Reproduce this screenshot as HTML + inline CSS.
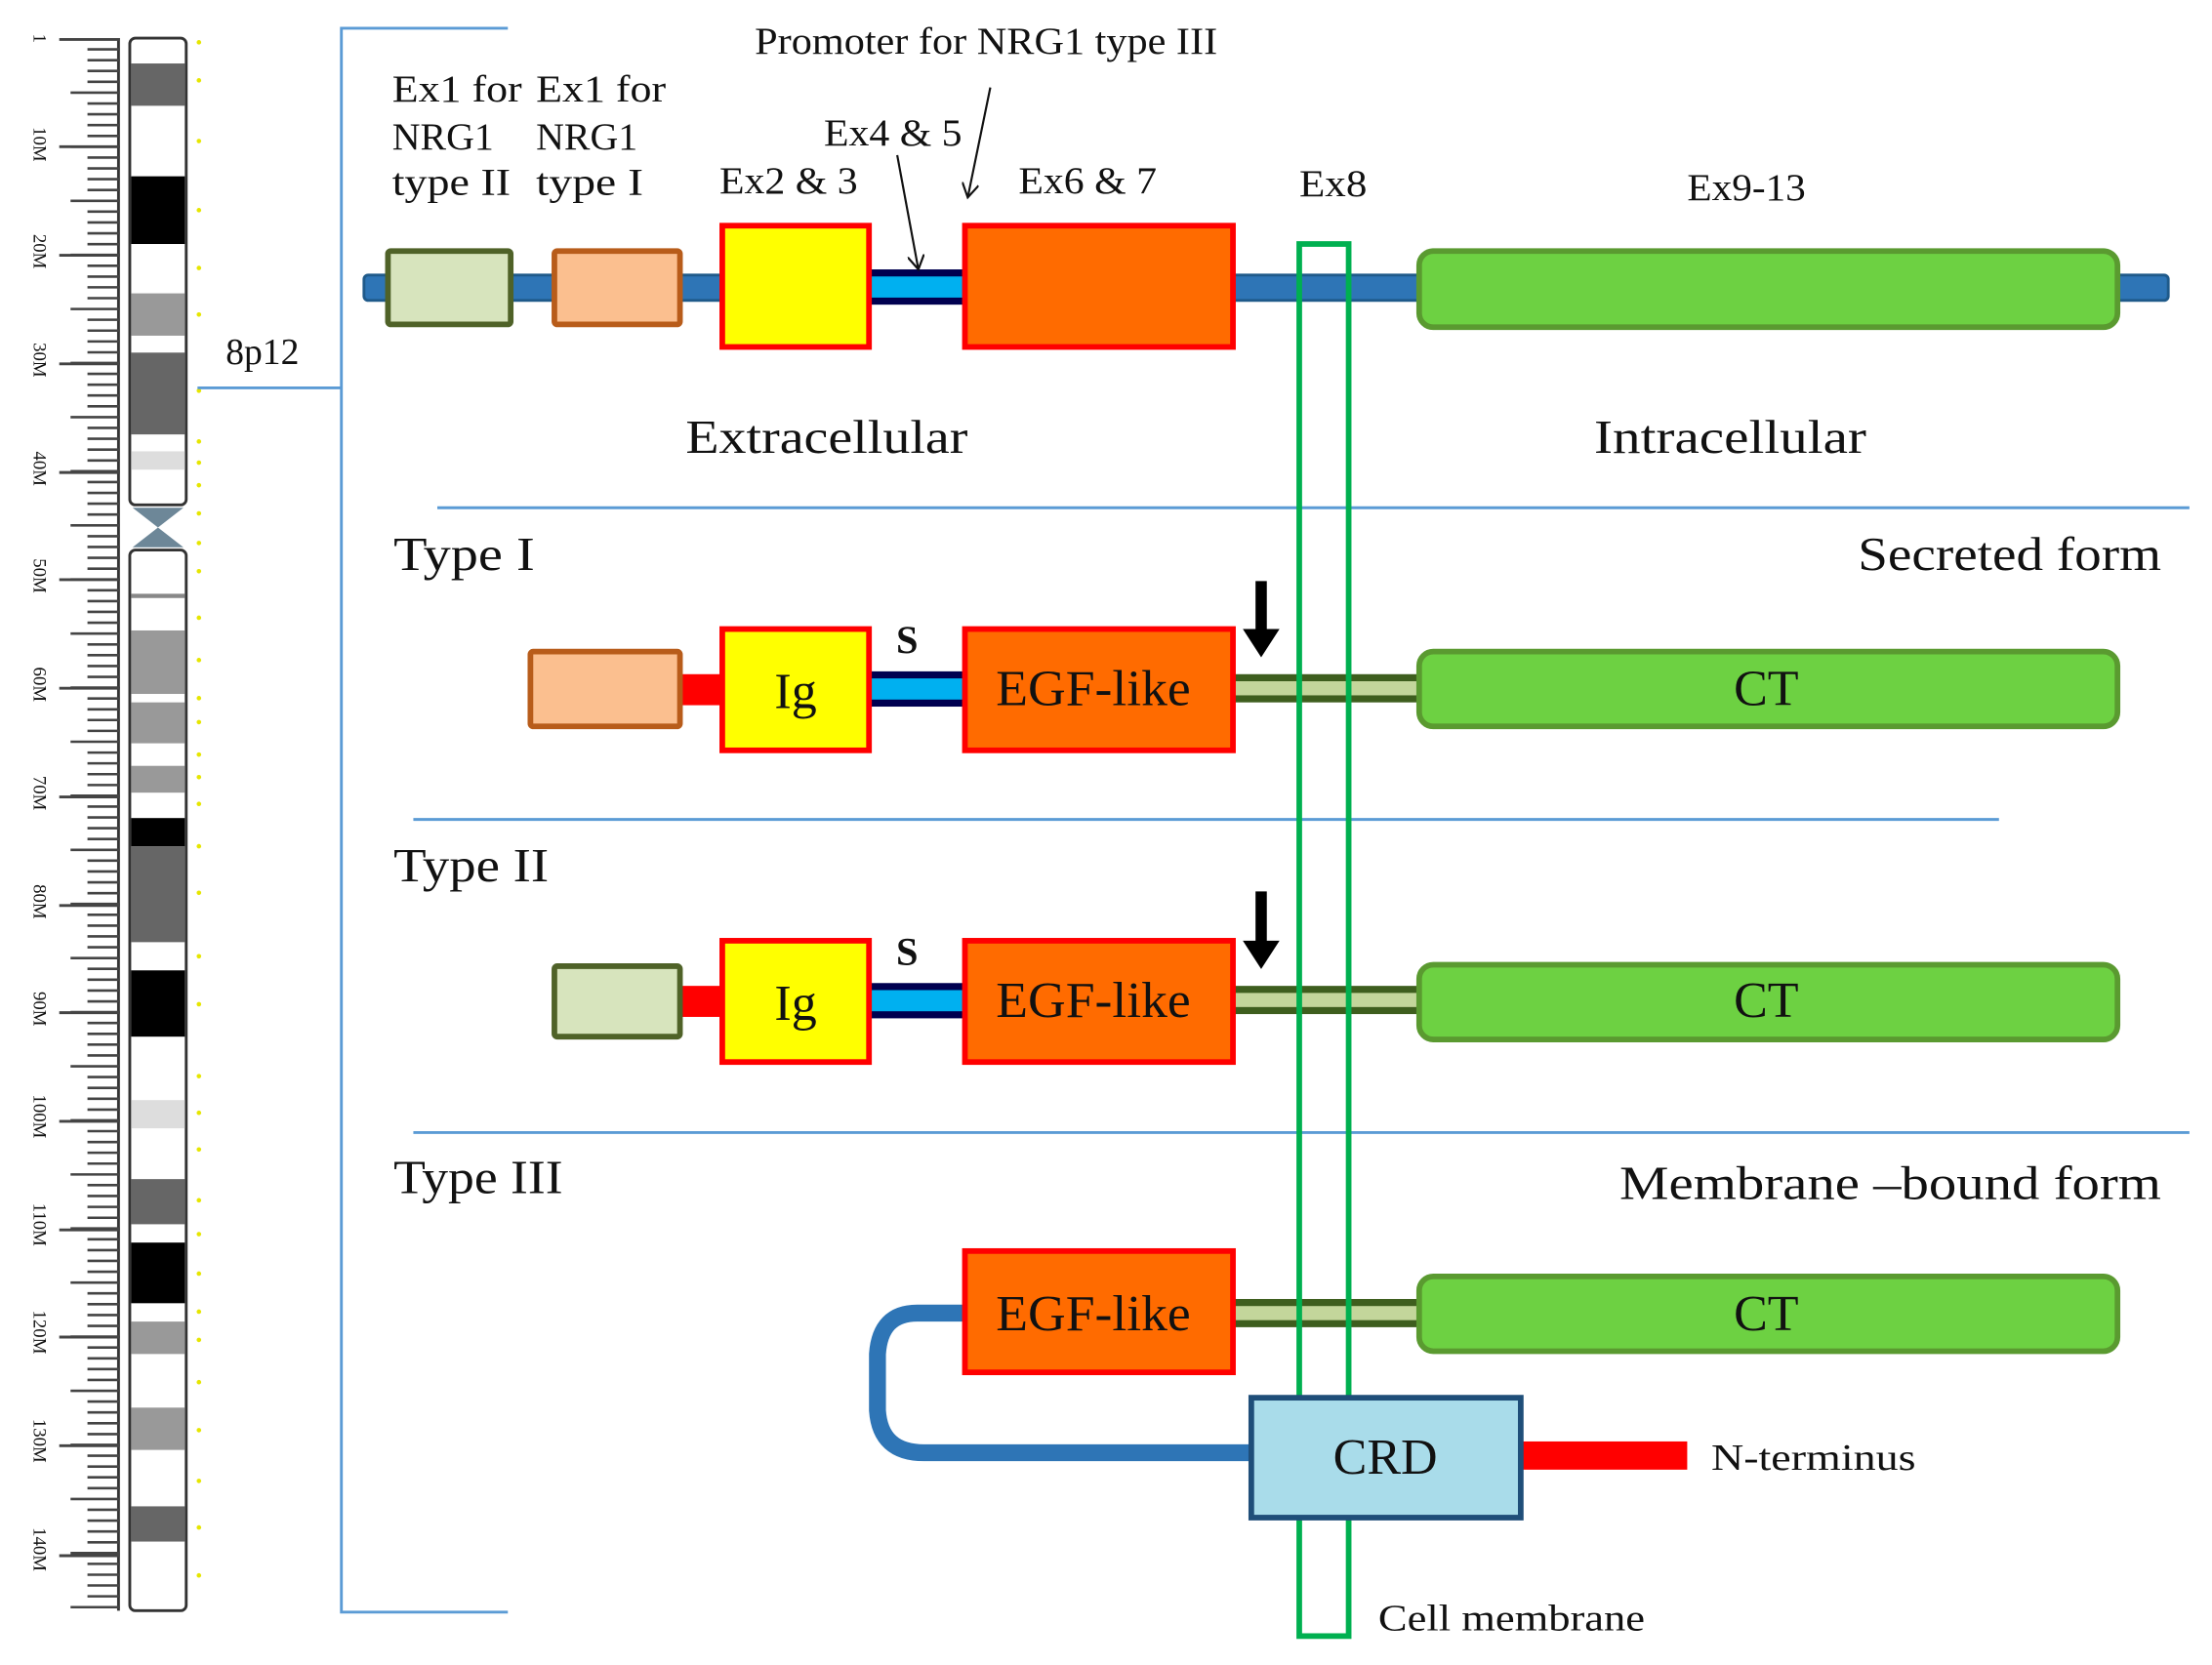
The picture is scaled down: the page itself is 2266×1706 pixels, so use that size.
<!DOCTYPE html>
<html><head><meta charset="utf-8"><style>
html,body{margin:0;padding:0;background:#fff;}
svg{display:block;}
text{font-family:"Liberation Serif",serif;fill:#111;}
</style></head><body>
<svg width="2266" height="1706" viewBox="0 0 1568 1180.5" preserveAspectRatio="none" xmlns="http://www.w3.org/2000/svg">
<defs>
<marker id="ah" markerWidth="12" markerHeight="12" refX="10" refY="6" orient="auto" markerUnits="userSpaceOnUse">
<path d="M0,0 L10,6 L0,12" fill="none" stroke="#111" stroke-width="1.5"/></marker>
</defs>
<g stroke="#333" stroke-width="2">
<line x1="84" y1="27" x2="84" y2="1142"/>
</g>
<g font-size="13" font-family="Liberation Sans" >
<text transform="translate(24,24) rotate(90)">1</text>
<text transform="translate(24,90) rotate(90)">10M</text>
<text transform="translate(24,166) rotate(90)">20M</text>
<text transform="translate(24,243) rotate(90)">30M</text>
<text transform="translate(24,320) rotate(90)">40M</text>
<text transform="translate(24,396) rotate(90)">50M</text>
<text transform="translate(24,473) rotate(90)">60M</text>
<text transform="translate(24,550) rotate(90)">70M</text>
<text transform="translate(24,627) rotate(90)">80M</text>
<text transform="translate(24,703) rotate(90)">90M</text>
<text transform="translate(24,776) rotate(90)">100M</text>
<text transform="translate(24,853) rotate(90)">110M</text>
<text transform="translate(24,929) rotate(90)">120M</text>
<text transform="translate(24,1006) rotate(90)">130M</text>
<text transform="translate(24,1083) rotate(90)">140M</text>
</g>
<rect x="92" y="27" width="40" height="331" rx="4" fill="#fff" stroke="#333" stroke-width="2"/>
<rect x="92" y="390" width="40" height="752" rx="4" fill="#fff" stroke="#333" stroke-width="2"/>
<g>
<rect x="93" y="45" width="38" height="30" fill="#666"/>
<rect x="93" y="125" width="38" height="48" fill="#000"/>
<rect x="93" y="208" width="38" height="30" fill="#999"/>
<rect x="93" y="250" width="38" height="58" fill="#666"/>
<rect x="93" y="320" width="38" height="13" fill="#ddd"/>
<rect x="93" y="421" width="38" height="3" fill="#888"/>
<rect x="93" y="447" width="38" height="45" fill="#999"/>
<rect x="93" y="498" width="38" height="29" fill="#999"/>
<rect x="93" y="543" width="38" height="19" fill="#999"/>
<rect x="93" y="580" width="38" height="20" fill="#000"/>
<rect x="93" y="600" width="38" height="68" fill="#666"/>
<rect x="93" y="688" width="38" height="47" fill="#000"/>
<rect x="93" y="780" width="38" height="20" fill="#ddd"/>
<rect x="93" y="836" width="38" height="32" fill="#666"/>
<rect x="93" y="881" width="38" height="43" fill="#000"/>
<rect x="93" y="937" width="38" height="23" fill="#999"/>
<rect x="93" y="998" width="38" height="30" fill="#999"/>
<rect x="93" y="1068" width="38" height="25" fill="#666"/>
</g>
<path d="M94,360 L130,360 L112,374 L130,388 L94,388 L112,374 Z" fill="#6d8798"/>
<g fill="#e6e600">
<circle cx="141" cy="30" r="1.6"/><circle cx="141" cy="57" r="1.6"/><circle cx="141" cy="100" r="1.6"/><circle cx="141" cy="149" r="1.6"/><circle cx="141" cy="190" r="1.6"/><circle cx="141" cy="223" r="1.6"/><circle cx="141" cy="277" r="1.6"/><circle cx="141" cy="313" r="1.6"/><circle cx="141" cy="328" r="1.6"/><circle cx="141" cy="344" r="1.6"/><circle cx="141" cy="364" r="1.6"/><circle cx="141" cy="385" r="1.6"/><circle cx="141" cy="405" r="1.6"/><circle cx="141" cy="438" r="1.6"/><circle cx="141" cy="468" r="1.6"/><circle cx="141" cy="495" r="1.6"/><circle cx="141" cy="512" r="1.6"/><circle cx="141" cy="535" r="1.6"/><circle cx="141" cy="551" r="1.6"/><circle cx="141" cy="570" r="1.6"/><circle cx="141" cy="600" r="1.6"/><circle cx="141" cy="633" r="1.6"/><circle cx="141" cy="678" r="1.6"/><circle cx="141" cy="712" r="1.6"/><circle cx="141" cy="763" r="1.6"/><circle cx="141" cy="789" r="1.6"/><circle cx="141" cy="815" r="1.6"/><circle cx="141" cy="851" r="1.6"/><circle cx="141" cy="875" r="1.6"/><circle cx="141" cy="903" r="1.6"/><circle cx="141" cy="930" r="1.6"/><circle cx="141" cy="950" r="1.6"/><circle cx="141" cy="980" r="1.6"/><circle cx="141" cy="1014" r="1.6"/><circle cx="141" cy="1050" r="1.6"/><circle cx="141" cy="1083" r="1.6"/><circle cx="141" cy="1117" r="1.6"/>
</g>
<g stroke="#5b9bd5" stroke-width="2" fill="none">
<path d="M360,20 L242,20 L242,1143 L360,1143"/>
<line x1="140" y1="275" x2="242" y2="275"/>
<line x1="310" y1="360" x2="1552" y2="360"/>
<line x1="293" y1="581" x2="1417" y2="581"/>
<line x1="293" y1="803" x2="1552" y2="803"/>
</g>
<text x="160" y="258" font-size="26">8p12</text>
<rect x="258" y="195" width="1279" height="18" rx="3" fill="#2e75b6" stroke="#1f5a8a" stroke-width="2"/>
<rect x="275" y="178" width="87" height="52" rx="2" fill="#d7e4bd" stroke="#4f6228" stroke-width="4"/>
<rect x="393" y="178" width="89" height="52" rx="2" fill="#fbbf8f" stroke="#b85c1a" stroke-width="4"/>
<rect x="616" y="191" width="68" height="25" fill="#000050"/>
<rect x="616" y="196" width="68" height="15" fill="#00b0f0"/>
<rect x="512" y="160" width="104" height="86" fill="#ffff00" stroke="#ff0000" stroke-width="4"/>
<rect x="684" y="160" width="190" height="86" fill="#ff6b00" stroke="#ff0000" stroke-width="4"/>
<rect x="1006" y="178" width="495" height="54" rx="10" fill="#6dd142" stroke="#5a9a30" stroke-width="4"/>
<g font-size="27" lengthAdjust="spacingAndGlyphs">
<text x="278" y="72" textLength="92" lengthAdjust="spacingAndGlyphs">Ex1 for</text><text x="278" y="106" textLength="72" lengthAdjust="spacingAndGlyphs">NRG1</text><text x="278" y="138" textLength="84" lengthAdjust="spacingAndGlyphs">type II</text>
<text x="380" y="72" textLength="92" lengthAdjust="spacingAndGlyphs">Ex1 for</text><text x="380" y="106" textLength="72" lengthAdjust="spacingAndGlyphs">NRG1</text><text x="380" y="138" textLength="76" lengthAdjust="spacingAndGlyphs">type I</text>
<text x="510" y="137" textLength="98" lengthAdjust="spacingAndGlyphs">Ex2 &amp; 3</text>
<text x="584" y="103" textLength="98" lengthAdjust="spacingAndGlyphs">Ex4 &amp; 5</text>
<text x="535" y="38" textLength="328" lengthAdjust="spacingAndGlyphs">Promoter for NRG1 type III</text>
<text x="722" y="137" textLength="98" lengthAdjust="spacingAndGlyphs">Ex6 &amp; 7</text>
<text x="921" y="139" textLength="48" lengthAdjust="spacingAndGlyphs">Ex8</text>
<text x="1196" y="142" textLength="84" lengthAdjust="spacingAndGlyphs">Ex9-13</text>
</g>
<line x1="636" y1="110" x2="651" y2="191" stroke="#111" stroke-width="1.5" marker-end="url(#ah)"/>
<line x1="702" y1="62" x2="686" y2="140" stroke="#111" stroke-width="1.5" marker-end="url(#ah)"/>
<text x="486" y="321" font-size="34" textLength="200" lengthAdjust="spacingAndGlyphs">Extracellular</text>
<text x="1130" y="321" font-size="34" textLength="193" lengthAdjust="spacingAndGlyphs">Intracellular</text>
<text x="279" y="404" font-size="34" textLength="100" lengthAdjust="spacingAndGlyphs">Type I</text>
<text x="1317" y="404" font-size="34" textLength="215" lengthAdjust="spacingAndGlyphs">Secreted form</text>
<rect x="482" y="478" width="30" height="22" fill="#ff0000"/>
<rect x="376" y="462" width="106" height="53" rx="2" fill="#fbbf8f" stroke="#b85c1a" stroke-width="4"/>
<rect x="616" y="476" width="68" height="25" fill="#000050"/><rect x="616" y="481" width="68" height="15" fill="#00b0f0"/>
<rect x="512" y="446" width="104" height="86" fill="#ffff00" stroke="#ff0000" stroke-width="4"/>
<text x="564" y="502" font-size="36" text-anchor="middle">Ig</text>
<text x="643" y="463" font-size="28" text-anchor="middle" font-weight="bold">S</text>
<rect x="874" y="478" width="132" height="20" fill="#3e5e1e"/><rect x="874" y="483" width="132" height="10" fill="#c3d69b"/>
<rect x="684" y="446" width="190" height="86" fill="#ff6b00" stroke="#ff0000" stroke-width="4"/>
<text x="706" y="500" font-size="36" textLength="138" lengthAdjust="spacingAndGlyphs">EGF-like</text>
<rect x="1006" y="462" width="495" height="53" rx="10" fill="#6dd142" stroke="#5a9a30" stroke-width="4"/>
<text x="1252" y="500" font-size="36" text-anchor="middle">CT</text>
<path d="M890,412 L898,412 L898,446 L907,446 L894,466 L881,446 L890,446 Z" fill="#000"/>
<text x="279" y="625" font-size="34" textLength="110" lengthAdjust="spacingAndGlyphs">Type II</text>
<rect x="482" y="699" width="30" height="22" fill="#ff0000"/>
<rect x="393" y="685" width="89" height="50" rx="2" fill="#d7e4bd" stroke="#4f6228" stroke-width="4"/>
<rect x="616" y="697" width="68" height="25" fill="#000050"/><rect x="616" y="702" width="68" height="15" fill="#00b0f0"/>
<rect x="512" y="667" width="104" height="86" fill="#ffff00" stroke="#ff0000" stroke-width="4"/>
<text x="564" y="723" font-size="36" text-anchor="middle">Ig</text>
<text x="643" y="684" font-size="28" text-anchor="middle" font-weight="bold">S</text>
<rect x="874" y="699" width="132" height="20" fill="#3e5e1e"/><rect x="874" y="704" width="132" height="10" fill="#c3d69b"/>
<rect x="684" y="667" width="190" height="86" fill="#ff6b00" stroke="#ff0000" stroke-width="4"/>
<text x="706" y="721" font-size="36" textLength="138" lengthAdjust="spacingAndGlyphs">EGF-like</text>
<rect x="1006" y="684" width="495" height="53" rx="10" fill="#6dd142" stroke="#5a9a30" stroke-width="4"/>
<text x="1252" y="721" font-size="36" text-anchor="middle">CT</text>
<path d="M890,632 L898,632 L898,667 L907,667 L894,687 L881,667 L890,667 Z" fill="#000"/>
<text x="279" y="846" font-size="34" textLength="120" lengthAdjust="spacingAndGlyphs">Type III</text>
<text x="1148" y="850" font-size="34" textLength="384" lengthAdjust="spacingAndGlyphs">Membrane –bound form</text>
<path d="M690,931 L650,931 Q624,931 622,960 L622,1000 Q624,1030 655,1030 L890,1030" fill="none" stroke="#2e75b6" stroke-width="12"/>
<rect x="874" y="921" width="132" height="20" fill="#3e5e1e"/><rect x="874" y="926" width="132" height="10" fill="#c3d69b"/>
<rect x="684" y="887" width="190" height="86" fill="#ff6b00" stroke="#ff0000" stroke-width="4"/>
<text x="706" y="943" font-size="36" textLength="138" lengthAdjust="spacingAndGlyphs">EGF-like</text>
<rect x="1006" y="905" width="495" height="53" rx="10" fill="#6dd142" stroke="#5a9a30" stroke-width="4"/>
<text x="1252" y="943" font-size="36" text-anchor="middle">CT</text>
<rect x="1078" y="1022" width="118" height="20" fill="#ff0000"/>
<text x="1213" y="1042" font-size="26" textLength="145" lengthAdjust="spacingAndGlyphs">N-terminus</text>
<text x="977" y="1156" font-size="26" textLength="189" lengthAdjust="spacingAndGlyphs">Cell membrane</text>
<rect x="921" y="173" width="35" height="987" fill="none" stroke="#00b050" stroke-width="4"/>
<rect x="887" y="991" width="191" height="85" fill="#a9dcea" stroke="#1f4e79" stroke-width="4"/>
<text x="982" y="1045" font-size="36" text-anchor="middle" fill="#333">CRD</text>
<g stroke="#444" stroke-width="2">
<path d="M42,28H85M42,104H85M42,181H85M42,258H85M42,335H85M42,411H85M42,488H85M42,565H85M42,642H85M42,718H85M42,795H85M42,872H85M42,948H85M42,1025H85M42,1103H85"/>
</g>
<g stroke="#444" stroke-width="1.8">
<path id="sm" d=""/>
</g>
<script>
(function(){var d="";for(var y=35;y<1142;y+=7.67){var l=(Math.round((y-28)/7.67)%5==0)?50:62;d+="M"+l+","+y.toFixed(1)+"H85";}document.getElementById("sm").setAttribute("d",d);})();
</script>
</svg>
</body></html>
